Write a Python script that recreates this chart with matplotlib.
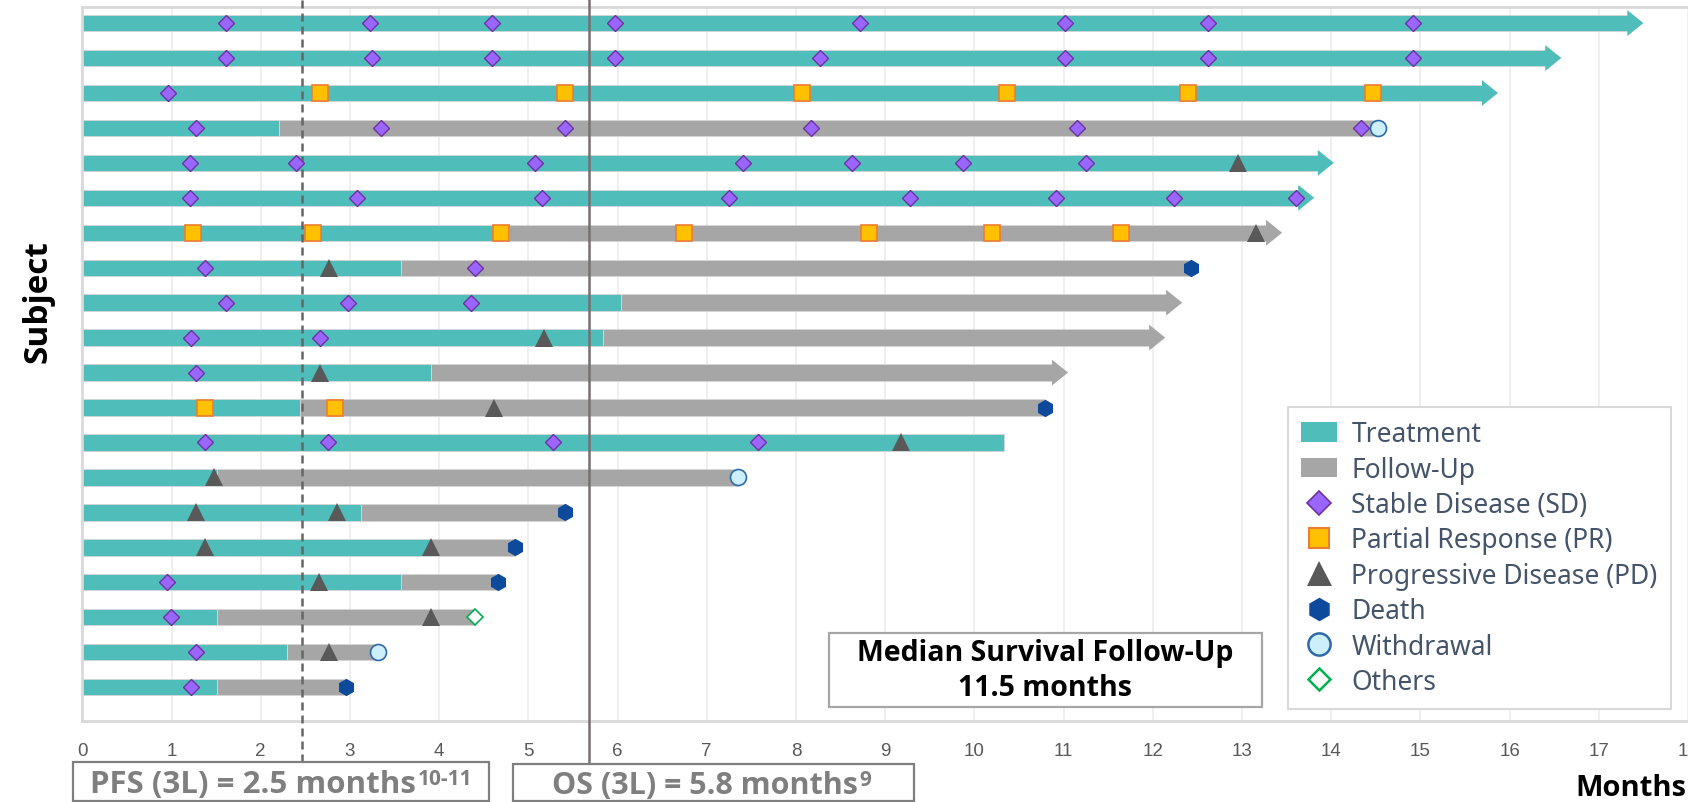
import matplotlib.pyplot as plt
from matplotlib.patches import Patch, Rectangle
from matplotlib.lines import Line2D
from matplotlib.text import Annotation

# subjects listed top to bottom, times in months
subjects = list(range(1, 21))
treatment_end = [17.5, 16.58, 15.87, 2.21, 14.03, 13.81, 4.78, 3.57, 6.04, 5.84,
                 3.91, 2.44, 10.33, 1.51, 3.12, 3.91, 3.57, 1.51, 2.30, 1.51]
followup_end = [17.5, 16.58, 15.87, 14.52, 14.03, 13.81, 13.45, 12.43, 12.33, 12.14,
                11.05, 10.79, 10.33, 7.35, 5.41, 4.85, 4.66, 4.40, 3.31, 2.96]
ongoing = [True, True, True, False, True, True, True, False, True, True,
           True, False, False, False, False, False, False, False, False, False]

sd_subject = [1]*8 + [2]*8 + [3] + [4]*6 + [5]*7 + [6]*8 + [8]*2 + [9]*3 + [10]*2 + [11] + [13]*4 + [17, 18, 19, 20]
sd_month = [1.61, 3.22, 4.59, 5.97, 8.72, 11.02, 12.62, 14.92,
            1.61, 3.25, 4.59, 5.97, 8.27, 11.02, 12.62, 14.92,
            0.96,
            1.28, 3.35, 5.41, 8.17, 11.15, 14.33,
            1.21, 2.39, 5.08, 7.41, 8.63, 9.87, 11.25,
            1.21, 3.08, 5.15, 7.25, 9.28, 10.92, 12.24, 13.61,
            1.38, 4.40,
            1.61, 2.98, 4.36,
            1.22, 2.66,
            1.28,
            1.38, 2.75, 5.28, 7.58,
            0.95, 0.99, 1.28, 1.22]

pr_subject = [3]*6 + [7]*7 + [12]*2
pr_month = [2.66, 5.41, 8.07, 10.37, 12.39, 14.47,
            1.24, 2.59, 4.69, 6.75, 8.82, 10.20, 11.64,
            1.38, 2.83]

pd_subject = [5, 7, 8, 10, 11, 12, 13, 14, 15, 15, 16, 16, 17, 18, 19]
pd_month = [12.96, 13.16, 2.76, 5.18, 2.66, 4.62, 9.18, 1.48, 1.28, 2.86, 1.38, 3.91, 2.65, 3.91, 2.76]

death_subject = [8, 12, 15, 16, 17, 20]
death_month = [12.43, 10.79, 5.41, 4.85, 4.66, 2.96]

withdrawal_subject = [4, 14, 19]
withdrawal_month = [14.52, 7.35, 3.31]

other_subject = [18]
other_month = [4.40]

pfs_median = 2.46
os_median = 5.68

TEAL = '#4fbdba'
GRAY = '#a6a6a6'
BAR_H = 0.47
HEAD_LEN = 0.17
HEAD_W = 0.37

fig = plt.figure(figsize=(16.88, 8.03), dpi=100)
W, H = 1688, 803
ax = fig.add_axes([82.3 / W, 1 - 722 / H, 1 - 82.3 / W, (722 - 8) / H])

# swimmer bars
for s, t_end, f_end, arrow in zip(subjects, treatment_end, followup_end, ongoing):
    last_color = GRAY if f_end > t_end else TEAL
    t_bar = t_end - HEAD_LEN if (arrow and last_color == TEAL) else t_end
    ax.barh(s, t_bar, height=BAR_H, color=TEAL, edgecolor='#d6d6d6', linewidth=0.6, zorder=2)
    if f_end > t_end:
        f_bar = f_end - HEAD_LEN if arrow else f_end
        ax.barh(s, f_bar - t_end, left=t_end, height=BAR_H, color=GRAY,
                edgecolor='#d6d6d6', linewidth=0.6, zorder=2)
    if arrow:
        ax.fill([f_end - HEAD_LEN - 0.01, f_end, f_end - HEAD_LEN - 0.01],
                [s - HEAD_W, s, s + HEAD_W], color=last_color, lw=0, zorder=2)

# median lines
ax.plot([pfs_median, pfs_median], [1.01, -0.057], transform=ax.get_xaxis_transform(),
        color='#666666', lw=1.8, linestyle=(0, (3.2, 2)), clip_on=False, zorder=3)
ax.plot([os_median, os_median], [1.02, -0.06], transform=ax.get_xaxis_transform(),
        color='#767171', lw=1.8, clip_on=False, zorder=3)

# events
ax.plot(sd_month, sd_subject, 'D', ms=8.2, mfc='#9966ff', mec='#7030a0', mew=1, ls='none', zorder=5)
ax.plot(pr_month, pr_subject, 's', ms=11, mfc='#ffc000', mec='#ed7d31', mew=1.2, ls='none', zorder=5)
ax.plot(pd_month, pd_subject, '^', ms=12.5, mfc='#595959', mec='#595959', mew=0, ls='none', zorder=5)
ax.plot(death_month, death_subject, 'h', ms=12.5, mfc='#0d4a9b', mec='#0d4a9b', mew=0, ls='none', zorder=5)
ax.plot(withdrawal_month, withdrawal_subject, 'o', ms=11.5, mfc='#cdeefb', mec='#2e6aa8', mew=1.2, ls='none', zorder=5)
ax.plot(other_month, other_subject, 'D', ms=8.2, mfc='white', mec='#00b050', mew=1.2, ls='none', zorder=5)

ax.set_xlim(0, 18)
ax.set_ylim(20.97, 0.54)
ax.set_xticks(range(19))
ax.set_yticks([])
ax.tick_params(axis='x', length=0, pad=15, labelsize=13.5, labelcolor='#595959')
for lbl in ax.get_xticklabels():
    lbl.set_fontfamily('Liberation Sans')
ax.grid(axis='x', color='#ececec', lw=1.2)
ax.set_axisbelow(True)
for side in ['left', 'bottom', 'top']:
    ax.spines[side].set_color('#d9d9d9')
    ax.spines[side].set_linewidth(2)
ax.spines['right'].set_visible(False)

# axis titles
fig.text(38 / W, 1 - 302 / H, 'Subject', rotation=90, ha='center', va='center',
         fontsize=24, fontweight='bold', family='Open Sans')
fig.text(1686 / W, 1 - 789 / H, 'Months', ha='right', va='center',
         fontsize=21, fontweight='bold', family='Open Sans')

# boxes under the axis
def box(x0, y0, x1, y1, color):
    fig.add_artist(Rectangle((x0 / W, 1 - y1 / H), (x1 - x0) / W, (y1 - y0) / H,
                             transform=fig.transFigure, fill=True, fc='white',
                             ec=color, lw=1.6, zorder=4))

def superscript(base, txt):
    sup = Annotation(txt, xy=(1, 1), xycoords=base, xytext=(1, 1), textcoords='offset points',
                     ha='left', va='top', fontsize=15, fontweight='bold', color='#7f7f7f',
                     family='Open Sans', annotation_clip=False)
    sup.set_zorder(7)
    fig.add_artist(sup)

box(73, 763, 489, 802, '#7f7f7f')
box(513, 765, 914, 802, '#7f7f7f')
box(829, 634, 1262, 708, '#a6a6a6')

main = fig.text(90 / W, 1 - 785 / H, 'PFS (3L) = 2.5 months', ha='left', va='center',
                fontsize=22.5, fontweight='bold', color='#7f7f7f', family='Open Sans', zorder=6)
superscript(main, '10-11')
main2 = fig.text(552 / W, 1 - 786 / H, 'OS (3L) = 5.8 months', ha='left', va='center',
                 fontsize=22, fontweight='bold', color='#7f7f7f', family='Open Sans', zorder=6)
superscript(main2, '9')

fig.text(1045 / W, 1 - 653 / H, 'Median Survival Follow-Up', ha='center', va='center',
         fontsize=20.5, fontweight='bold', color='black', family='Open Sans', zorder=6)
fig.text(1045 / W, 1 - 689 / H, '11.5 months', ha='center', va='center',
         fontsize=20.5, fontweight='bold', color='black', family='Open Sans', zorder=6)

# legend
handles = [
    Patch(facecolor=TEAL, edgecolor='none', label='Treatment'),
    Patch(facecolor=GRAY, edgecolor='none', label='Follow-Up'),
    Line2D([], [], marker='D', ms=12, mfc='#9966ff', mec='#7030a0', mew=1.2, ls='none', label='Stable Disease (SD)'),
    Line2D([], [], marker='s', ms=15, mfc='#ffc000', mec='#ed7d31', mew=1.5, ls='none', label='Partial Response (PR)'),
    Line2D([], [], marker='^', ms=18, mfc='#595959', mec='#595959', mew=0, ls='none', label='Progressive Disease (PD)'),
    Line2D([], [], marker='h', ms=17, mfc='#0d4a9b', mec='#0d4a9b', mew=0, ls='none', label='Death'),
    Line2D([], [], marker='o', ms=16, mfc='#cdeefb', mec='#2e6aa8', mew=1.8, ls='none', label='Withdrawal'),
    Line2D([], [], marker='D', ms=11.5, mfc='white', mec='#00b050', mew=1.8, ls='none', label='Others'),
]
leg = fig.legend(handles=handles, loc='upper left', bbox_to_anchor=(1288 / W, 1 - 408 / H),
                 bbox_transform=fig.transFigure, frameon=True, fancybox=False,
                 edgecolor='#d9d9d9', framealpha=1, borderpad=0.5, labelspacing=0.28,
                 handlelength=1.35, handleheight=0.75, handletextpad=0.55, borderaxespad=0,
                 prop={'family': 'Noto Sans', 'size': 19})
leg.get_frame().set_linewidth(1.5)
for t in leg.get_texts():
    t.set_color('#44546a')

fig.savefig('out.png', dpi=100)
